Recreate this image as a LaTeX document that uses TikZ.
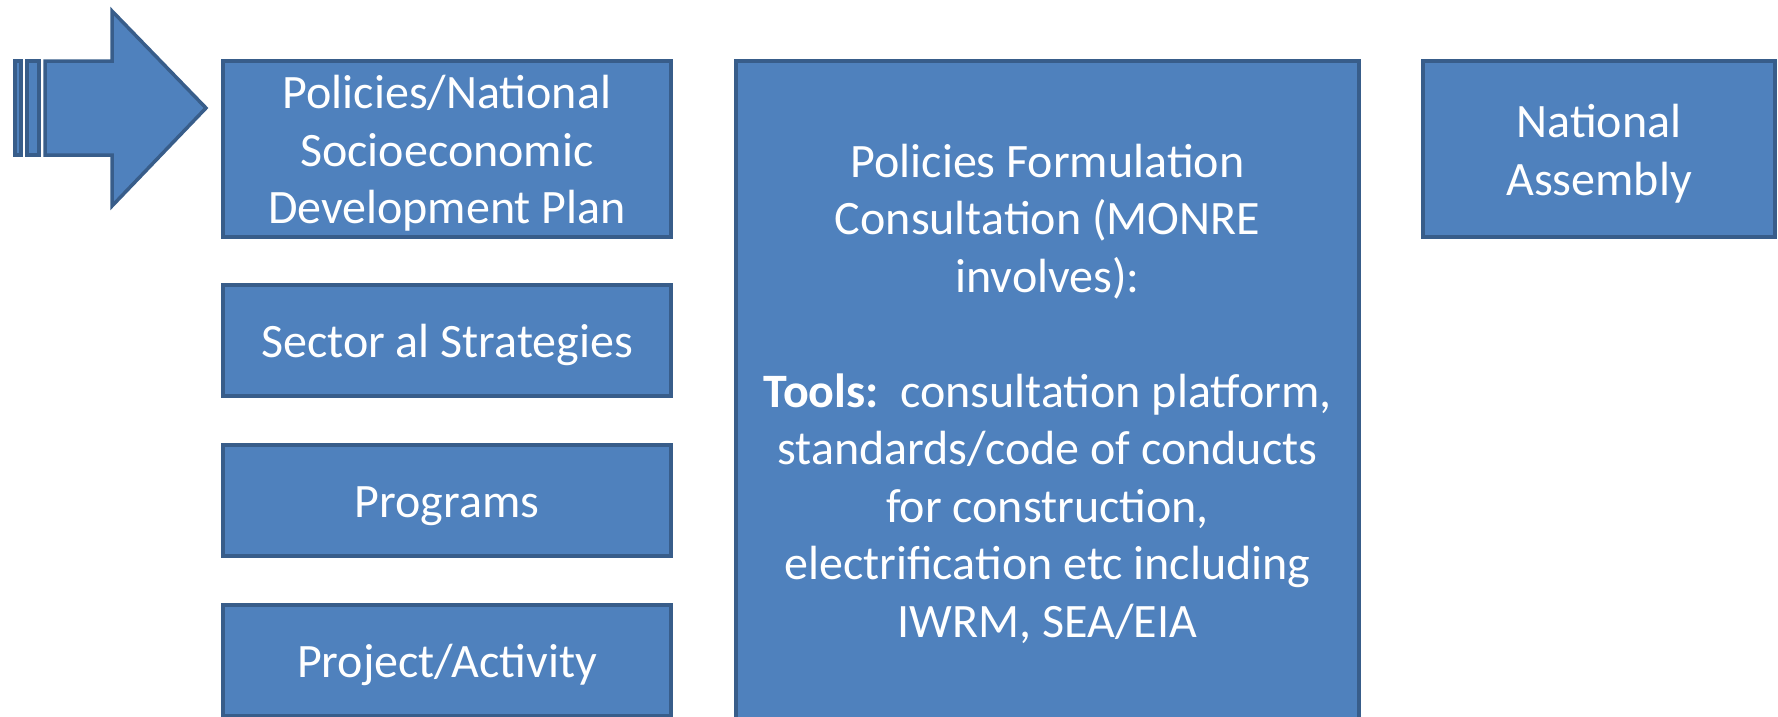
\documentclass[tikz,border=0pt]{standalone}
\usepackage{fontspec}
\setmainfont{Carlito}
\definecolor{boxfill}{HTML}{4F81BD}
\definecolor{boxline}{HTML}{385D8A}
\begin{document}
\begin{tikzpicture}[x=1pt,y=-1pt,
  box/.style={draw=boxline, fill=boxfill, line width=3.5pt, inner sep=0pt},
  txt/.style={text=white, align=center, inner sep=0pt,
    font=\fontsize{48}{57.5}\selectfont},
  arrowpart/.style={draw=boxline, fill=boxfill, line width=3.5pt, line join=miter}]
\useasboundingbox (0,0) rectangle (1778,716);
\begin{scope}
\clip (0,0) rectangle (1778,716);
% striped arrow
\draw[arrowpart] (15,61) rectangle (21,155);
\draw[arrowpart] (27,61) rectangle (39,155);
\draw[arrowpart] (45,61) -- (112,61) -- (112,11) -- (206,108) -- (112,206) -- (112,155) -- (45,155) -- cycle;
% boxes
\node[box, minimum width=448pt, minimum height=176pt,
  label={[txt, yshift=-4.5pt]center:{Policies/National\\Socioeconomic\\Development Plan}}] (plan) at (447,149) {};
\node[box, minimum width=448pt, minimum height=111pt,
  label={[txt, yshift=-4.5pt]center:{Sector al Strategies}}] (sector) at (447,340.5) {};
\node[box, minimum width=448pt, minimum height=111pt,
  label={[txt, yshift=-5.5pt]center:{Programs}}] (programs) at (447,500.5) {};
\node[box, minimum width=448pt, minimum height=111pt,
  label={[txt, yshift=-4pt]center:{Project/Activity}}] (project) at (447,660.5) {};
\node[box, minimum width=623pt, minimum height=660pt,
  label={[txt, yshift=-2.5pt]center:{Policies Formulation\\Consultation (MONRE\\involves):\\[57.5pt]
   \textbf{Tools:}\ \ consultation platform,\\standards/code of conducts\\for construction,\\electrification etc including\\IWRM, SEA/EIA}}] (consult) at (1047.5,391) {};
\node[box, minimum width=352pt, minimum height=176pt,
  label={[txt, yshift=-4.5pt]center:{National\\Assembly}}] (assembly) at (1599,149) {};
\end{scope}
\end{tikzpicture}
\end{document}
